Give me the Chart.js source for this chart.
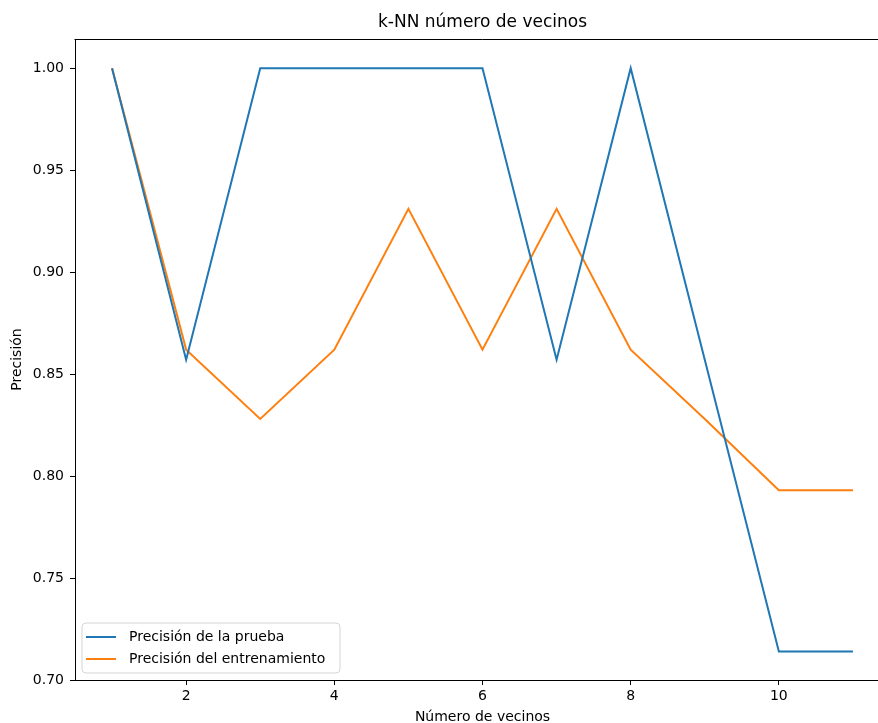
<!DOCTYPE html>
<html><head><meta charset="utf-8">
<script src="https://cdn.jsdelivr.net/npm/chart.js@4"></script>
<style>html,body{margin:0;padding:0;overflow:hidden;background:#fff;width:878px;height:723px}#wrap{width:878px;height:723px;position:relative;overflow:hidden}</style>
</head><body><div id="wrap"><canvas id="c" width="900" height="723" style="width:900px;height:723px;display:block"></canvas></div>
<script>
const neighbors = [1, 2, 3, 4, 5, 6, 7, 8, 9, 10, 11];
const testAccuracy = [1.0, 0.857, 1.0, 1.0, 1.0, 1.0, 0.857, 1.0, 0.857, 0.714, 0.714];
const trainAccuracy = [1.0, 0.862, 0.828, 0.862, 0.931, 0.862, 0.931, 0.862, 0.828, 0.793, 0.793];
const xTicks = [2, 4, 6, 8, 10];
const yTicks = [0.70, 0.75, 0.80, 0.85, 0.90, 0.95, 1.00];
const seriesLabels = ['Precisión de la prueba', 'Precisión del entrenamiento'];
const seriesColors = ['#1f77b4', '#ff7f0e'];
const chartTitle = 'k-NN número de vecinos';
const xTitle = 'Número de vecinos';
const yTitle = 'Precisión';

const FONT = 'DejaVu Sans';
const tickFont = {family: FONT, size: 14};
const X_MIN = 0.5, X_MAX = 11.5;

const toPoints = arr => neighbors.map((x, i) => ({x: x, y: arr[i]}));

const decor = {
  id: 'decor',
  afterDatasetsDraw(chart) {
    const ctx = chart.ctx, a = chart.chartArea;
    ctx.save();
    // top spine
    ctx.strokeStyle = '#000';
    ctx.lineWidth = 1;
    ctx.beginPath();
    ctx.moveTo(Math.round(a.left) - 0.5, Math.round(a.top) + 0.5);
    ctx.lineTo(Math.round(a.right), Math.round(a.top) + 0.5);
    ctx.stroke();
    // legend box
    const bx = a.left + 7, bw = 258, bh = 50, by = a.bottom - 7 - bh;
    const r = 4;
    ctx.beginPath();
    ctx.moveTo(bx + r, by);
    ctx.arcTo(bx + bw, by, bx + bw, by + bh, r);
    ctx.arcTo(bx + bw, by + bh, bx, by + bh, r);
    ctx.arcTo(bx, by + bh, bx, by, r);
    ctx.arcTo(bx, by, bx + bw, by, r);
    ctx.closePath();
    ctx.fillStyle = 'rgba(255,255,255,0.8)';
    ctx.fill();
    ctx.strokeStyle = '#d5d5d5';
    ctx.lineWidth = 1;
    ctx.stroke();
    ctx.font = '14px "' + FONT + '"';
    ctx.textBaseline = 'middle';
    ctx.textAlign = 'left';
    seriesLabels.forEach((lab, i) => {
      const y = by + 14 + i * 22;
      ctx.strokeStyle = seriesColors[i];
      ctx.lineWidth = 2;
      ctx.beginPath();
      ctx.moveTo(bx + 4, y);
      ctx.lineTo(bx + 34, y);
      ctx.stroke();
      ctx.fillStyle = '#000';
      ctx.fillText(lab, bx + 47, y);
    });
    // titles centred on the axes box
    const cx = (a.left + a.right) / 2;
    ctx.fillStyle = '#000';
    ctx.textAlign = 'center';
    ctx.font = '17px "' + FONT + '"';
    ctx.fillText(chartTitle, cx, 23);
    ctx.font = '14px "' + FONT + '"';
    ctx.fillText(xTitle, cx, 717);
    ctx.translate(17, (a.top + a.bottom) / 2);
    ctx.rotate(-Math.PI / 2);
    ctx.fillText(yTitle, 0, 0);
    ctx.restore();
  }
};

new Chart(document.getElementById('c'), {
  type: 'line',
  data: {
    datasets: [
      {label: seriesLabels[0], data: toPoints(testAccuracy), borderColor: seriesColors[0], borderWidth: 2, pointRadius: 0, tension: 0},
      {label: seriesLabels[1], data: toPoints(trainAccuracy), borderColor: seriesColors[1], borderWidth: 2, pointRadius: 0, tension: 0}
    ]
  },
  options: {
    responsive: false,
    animation: false,
    devicePixelRatio: 1,
    layout: {padding: {top: 39, right: 10, left: 0, bottom: 0}},
    plugins: {legend: {display: false}, title: {display: false}, tooltip: {enabled: false}},
    scales: {
      x: {
        type: 'linear', min: X_MIN, max: X_MAX,
        afterBuildTicks: s => { s.ticks = xTicks.map(v => ({value: v})); },
        afterFit: s => { s.height = 43; },
        grid: {display: true, drawOnChartArea: false, drawTicks: true, tickLength: 5, color: '#000', lineWidth: 1},
        border: {display: true, color: '#000', width: 1},
        ticks: {font: tickFont, color: '#000', padding: 3, maxRotation: 0, autoSkip: false, callback: v => String(v)}
      },
      y: {
        type: 'linear', min: 0.7, max: 1.0143,
        afterBuildTicks: s => { s.ticks = yTicks.map(v => ({value: v})); },
        afterFit: s => { s.width = 75; },
        grid: {display: true, drawOnChartArea: false, drawTicks: true, tickLength: 5, color: '#000', lineWidth: 1},
        border: {display: true, color: '#000', width: 1},
        ticks: {font: tickFont, color: '#000', padding: 6, autoSkip: false, callback: v => v.toFixed(2)}
      }
    }
  },
  plugins: [decor]
});
</script></body></html>
